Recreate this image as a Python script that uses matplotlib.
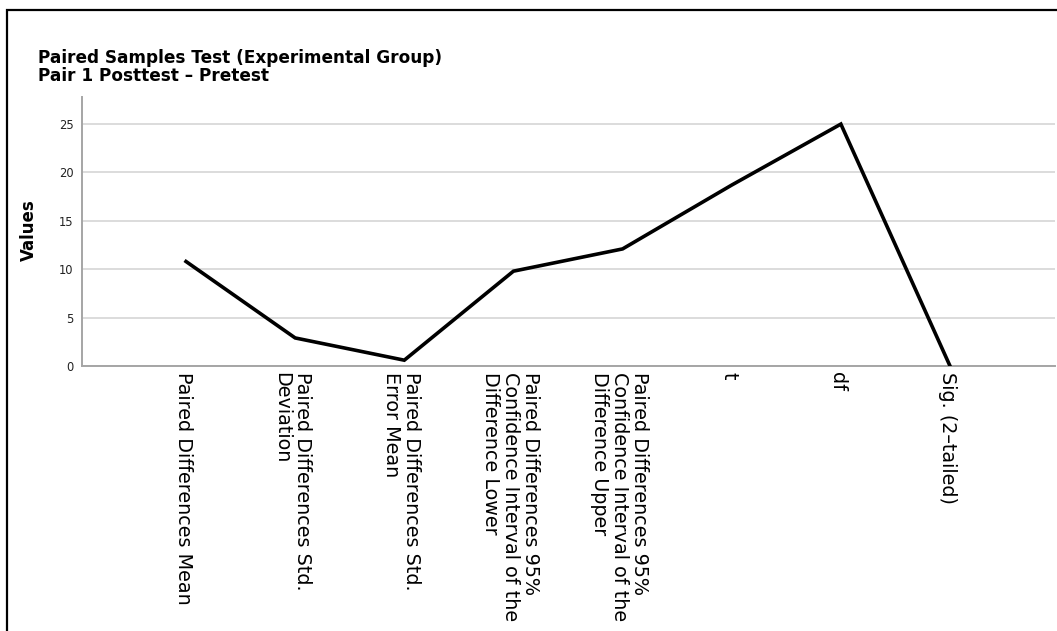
import matplotlib
matplotlib.use("Agg")
import matplotlib.pyplot as plt
import matplotlib.transforms as mtransforms
from matplotlib.patches import Rectangle

title_line1 = "Paired Samples Test (Experimental Group)"
title_line2 = "Pair 1 Posttest – Pretest"
y_label = "Values"
categories = [
    "Paired Differences Mean",
    "Paired Differences Std.\nDeviation",
    "Paired Differences Std.\nError Mean",
    "Paired Differences 95%\nConfidence Interval of the\nDifference Lower",
    "Paired Differences 95%\nConfidence Interval of the\nDifference Upper",
    "t",
    "df",
    "Sig. (2–tailed)",
]
values = [10.8, 2.9, 0.6, 9.8, 12.1, 18.7, 25, 0.0]
y_ticks = [0, 5, 10, 15, 20, 25]

W, H = 1057, 631
fig = plt.figure(figsize=(W / 100, H / 100), dpi=100)
fig.patch.set_facecolor("white")

ax = fig.add_axes([82 / W, 1 - 366 / H, (1055 - 82) / W, (366 - 97) / H])
x = list(range(len(categories)))
ax.plot(x, values, color="black", linewidth=2.6, solid_joinstyle="miter", zorder=3)

ax.set_xlim(-0.953, 7.962)
ax.set_ylim(0, 27.8)
ax.set_yticks(y_ticks)
ax.set_yticklabels([str(v) for v in y_ticks], fontsize=8.3, color="#222222")
ax.set_xticks(x)
ax.set_xticklabels(categories, rotation=-90, fontsize=13.8, ha="center", va="top",
                   multialignment="left", linespacing=1.08, color="black")
ax.tick_params(axis="both", length=0)
ax.tick_params(axis="y", pad=6)
ax.tick_params(axis="x", pad=4.5)

shift = mtransforms.ScaledTranslation(-3 / 100, 0, fig.dpi_scale_trans)
for lbl in ax.get_xticklabels():
    lbl.set_transform(lbl.get_transform() + shift)

ax.grid(axis="y", color="#d2d2d2", linewidth=1.1, zorder=0)
ax.set_axisbelow(True)
for s in ["top", "right"]:
    ax.spines[s].set_visible(False)
for s in ["left", "bottom"]:
    ax.spines[s].set_color("#a5a5a5")
    ax.spines[s].set_linewidth(1.4)

fig.text(29 / W, 1 - 230 / H, y_label, rotation=90, ha="center", va="center",
         fontsize=12, fontweight="bold")
fig.text(38 / W, 1 - 63 / H, title_line1, ha="left", va="baseline",
         fontsize=12.2, fontweight="bold")
fig.text(38 / W, 1 - 81 / H, title_line2, ha="left", va="baseline",
         fontsize=12.2, fontweight="bold")

# outer frame of the chart box
fig.add_artist(Rectangle((7 / W, -0.5), 2.0, 1.5 - 10 / H, transform=fig.transFigure,
                         fill=False, edgecolor="black", linewidth=1.6))

fig.savefig("out.png", dpi=100)
